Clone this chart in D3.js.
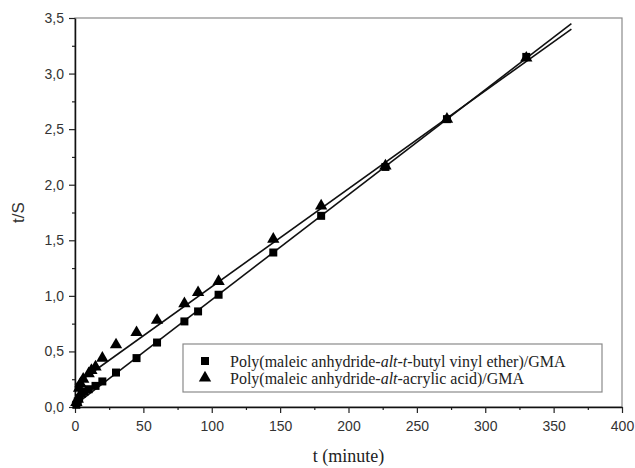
<!DOCTYPE html>
<html lang="en">
<head>
<meta charset="UTF-8">
<title>t/S vs t</title>
<style>
  body { margin: 0; background: #fff; }
  svg { display: block; }
</style>
</head>
<body>
<div id="chart"></div>
<script src="https://cdn.jsdelivr.net/npm/d3@7/dist/d3.min.js"></script>
<script>
    // data
    const timesSq  = [1, 2, 3, 5, 7, 10, 15, 20, 30, 45, 60, 80, 90, 105, 145, 180, 227, 272, 330];
    const valuesSq = [0.02, 0.05, 0.08, 0.12, 0.14, 0.16, 0.19, 0.23, 0.31, 0.44, 0.58, 0.77, 0.86, 1.01, 1.39, 1.72, 2.16, 2.59, 3.15];
    const timesTri  = [1, 2, 3, 4, 6, 10, 12, 15, 20, 30, 45, 60, 80, 90, 105, 145, 180, 227, 272, 330];
    const valuesTri = [0.04, 0.07, 0.17, 0.21, 0.25, 0.30, 0.33, 0.36, 0.44, 0.56, 0.67, 0.78, 0.93, 1.03, 1.13, 1.51, 1.81, 2.17, 2.59, 3.14];
    const fitSq  = [[0, 0.02], [363, 3.45]];
    const fitTri = [[0, 0.20], [363, 3.40]];
    const xTicks = [0, 50, 100, 150, 200, 250, 300, 350, 400];
    const yTicks = [0, 0.5, 1, 1.5, 2, 2.5, 3, 3.5];
    const legendLabels = [
        [["Poly(maleic anhydride-", false], ["alt", true], ["-", false], ["t", true], ["-butyl vinyl ether)/GMA", false]],
        [["Poly(maleic anhydride-", false], ["alt", true], ["-acrylic acid)/GMA", false]]
    ];

    const width = 635, height = 468;
    const margin = {top: 18, left: 75, bottom: 61, right: 13};
    const iw = width - margin.left - margin.right,
        ih = height - margin.top - margin.bottom;

    const svg = d3.select("#chart").append("svg")
        .attr("width", width)
        .attr("height", height);

    const g = svg.append("g")
        .attr("transform", `translate(${margin.left},${margin.top})`);

    const xScale = d3.scaleLinear().domain([0, 400]).range([0, iw]);
    const yScale = d3.scaleLinear().domain([0, 3.5]).range([ih, 0]);
    const fmt = d => d3.format(".1f")(d).replace(".", ",");

    // frame (top/right grey)
    g.append("rect")
        .attr("width", iw).attr("height", ih)
        .style("fill", "none").style("stroke", "#8a8a8a").style("stroke-width", 1.2);

    // minor ticks
    g.append("g")
        .attr("transform", `translate(0,${ih})`)
        .call(d3.axisBottom(xScale).tickValues(d3.range(25, 400, 50)).tickSize(3).tickFormat(""))
        .call(s => s.select(".domain").remove());
    g.append("g")
        .call(d3.axisLeft(yScale).tickValues(d3.range(0.25, 3.5, 0.5)).tickSize(3).tickFormat(""))
        .call(s => s.select(".domain").remove());

    const xAxis = g.append("g")
        .attr("transform", `translate(0,${ih})`)
        .call(d3.axisBottom(xScale).tickValues(xTicks).tickSize(6).tickPadding(8).tickSizeOuter(0));
    const yAxis = g.append("g")
        .call(d3.axisLeft(yScale).tickValues(yTicks).tickSize(6).tickPadding(5).tickSizeOuter(0).tickFormat(fmt));

    [xAxis, yAxis].forEach(a => {
        a.selectAll("text")
            .style("font-family", "'Liberation Sans', Arial, sans-serif")
            .style("font-size", "14px")
            .style("fill", "#333");
        a.select(".domain").style("stroke", "#111").style("stroke-width", 1.5);
    });
    g.selectAll(".tick line").style("stroke", "#222").style("stroke-width", 1.2);

    // axis titles
    svg.append("text")
        .attr("x", margin.left + xScale(200))
        .attr("y", 462)
        .attr("text-anchor", "middle")
        .style("font-family", "'Liberation Serif', 'Times New Roman', serif")
        .style("font-size", "18px")
        .style("fill", "#222")
        .text("t (minute)");
    svg.append("text")
        .attr("transform", `translate(24,${margin.top + yScale(1.75)}) rotate(-90)`)
        .attr("text-anchor", "middle")
        .style("font-family", "'Liberation Sans', Arial, sans-serif")
        .style("font-size", "17px")
        .style("fill", "#333")
        .text("t/S");

    // fit lines
    const line = d3.line().x(d => xScale(d[0])).y(d => yScale(d[1]));
    [fitSq, fitTri].forEach(f => {
        g.append("path")
            .datum(f)
            .attr("d", line)
            .style("fill", "none")
            .style("stroke", "#111")
            .style("stroke-width", 1.6);
    });

    const sq = d3.symbol().type(d3.symbolSquare).size(64);
    const tri = d3.symbol().type(d3.symbolTriangle).size(66);

    g.append("g").selectAll("path")
        .data(timesTri.map((t, i) => [t, valuesTri[i]]))
        .join("path")
        .attr("transform", d => `translate(${xScale(d[0])},${yScale(d[1])})`)
        .attr("d", tri)
        .style("fill", "#000");

    g.append("g").selectAll("path")
        .data(timesSq.map((t, i) => [t, valuesSq[i]]))
        .join("path")
        .attr("transform", d => `translate(${xScale(d[0])},${yScale(d[1])})`)
        .attr("d", sq)
        .style("fill", "#000");

    // legend
    const lg = svg.append("g").attr("transform", "translate(183,344)");
    lg.append("rect")
        .attr("width", 419).attr("height", 48)
        .style("fill", "#fff").style("stroke", "#8a8a8a").style("stroke-width", 1.2);
    [sq, tri].forEach((s, i) => {
        lg.append("path")
            .attr("transform", `translate(22,${17 + i * 17})`)
            .attr("d", s)
            .style("fill", "#000");
        const t = lg.append("text")
            .attr("x", 47).attr("y", 23 + i * 17)
            .style("font-family", "'Liberation Serif', 'Times New Roman', serif")
            .style("font-size", "16px")
            .style("fill", "#222");
        legendLabels[i].forEach(p => {
            t.append("tspan").text(p[0]).style("font-style", p[1] ? "italic" : "normal");
        });
    });
</script>
</body>
</html>
